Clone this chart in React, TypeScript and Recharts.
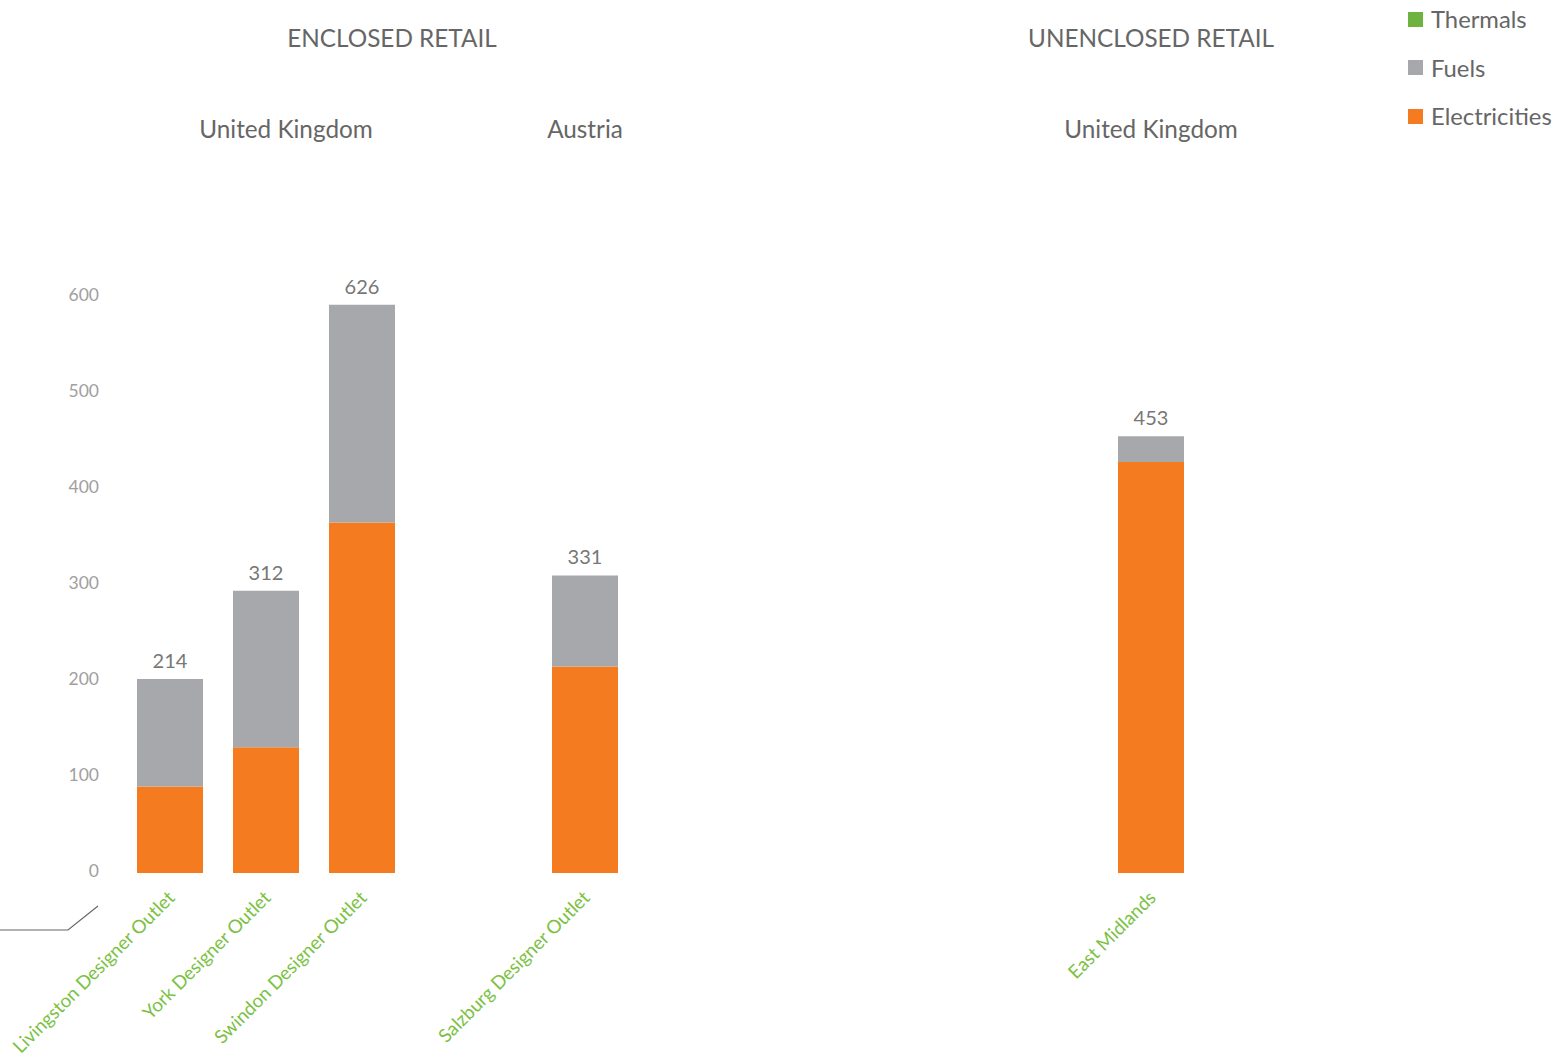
import React from 'react';
import { BarChart, Bar, XAxis, YAxis, LabelList, Legend } from 'recharts';

// ---- data ----
const sites = ['Livingston Designer Outlet', 'York Designer Outlet', 'Swindon Designer Outlet', 'Salzburg Designer Outlet', 'East Midlands'];
const panelOf = [0, 0, 0, 1, 2];
const electricities = [90, 131, 365, 215, 428];
const fuels = [112, 163, 227, 95, 27];
const thermals = [0, 0, 0, 0, 0];
const totals = [214, 312, 626, 331, 453];
const yTicks = [0, 100, 200, 300, 400, 500, 600];
const retailTypes = ['ENCLOSED RETAIL', 'UNENCLOSED RETAIL'];
const countries = ['United Kingdom', 'Austria', 'United Kingdom'];

const ORANGE = '#F47B20';
const GRAY = '#A7A8AB';
const GREEN = '#6DB33F';
const TEXT = '#666666';
const FONT = 'Lato, "Open Sans", sans-serif';

const rows = sites.map((s, i) => ({
  name: s,
  panel: panelOf[i],
  Electricities: electricities[i],
  Fuels: fuels[i],
  Thermals: thermals[i],
  total: totals[i],
}));

const H = 1057;
const PLOT_BOTTOM = 873;
const PLOT_TOP = 297;
const XH = 30;

const XTick = (props: any) => {
  const { x, y, payload } = props;
  return (
    <text
      transform={`translate(${x + 6},${y + 26}) rotate(-45)`}
      textAnchor="end"
      fill="#7AC143"
      fontSize={18.7}
      fontFamily={FONT}
    >
      {payload.value}
    </text>
  );
};

const YTick = (props: any) => {
  const { x, y, payload } = props;
  return (
    <text x={x} y={y - 2} dy="0.355em" textAnchor="end" fill="#A0A0A0" fontSize={17.5} fontFamily={FONT}>
      {payload.value}
    </text>
  );
};

const LegendContent = (props: any) => {
  const items = [...(props.payload || [])].reverse();
  return (
    <div style={{ fontFamily: FONT }}>
      {items.map((it: any) => (
        <div key={it.value} style={{ display: 'flex', alignItems: 'center', height: 48.5 }}>
          <span style={{ width: 15, height: 15, background: it.color, display: 'inline-block', marginRight: 8 }} />
          <span style={{ fontSize: 23.8, color: TEXT }}>{it.value}</span>
        </div>
      ))}
    </div>
  );
};

function Panel({ idx, left, width, mLeft, mRight, showY, legend }: any) {
  const data = rows.filter((r) => r.panel === idx);
  return (
    <div style={{ position: 'absolute', left, top: 0 }}>
      <BarChart
        width={width}
        height={H}
        data={data}
        margin={{ top: PLOT_TOP, bottom: H - PLOT_BOTTOM - XH, left: mLeft, right: mRight }}
        barSize={66}
        style={{ overflow: 'visible' }}
      >
        <XAxis dataKey="name" axisLine={false} tickLine={false} tickSize={0} tickMargin={0} height={XH} tick={<XTick />} interval={0} />
        <YAxis
          domain={[0, 600]}
          ticks={yTicks}
          hide={!showY}
          width={showY ? 122 : 0}
          axisLine={false}
          tickLine={false}
          tickSize={0}
          tickMargin={23}
          tick={<YTick />}
        />
        {legend && (
          <Legend
            layout="vertical"
            verticalAlign="middle"
            align="center"
            content={<LegendContent />}
            wrapperStyle={{ position: 'absolute', left: 1408 - left, top: -5, width: 160, height: 150 }}
          />
        )}
        <Bar dataKey="Electricities" stackId="a" fill={ORANGE} isAnimationActive={false} />
        <Bar dataKey="Fuels" stackId="a" fill={GRAY} isAnimationActive={false}>
          <LabelList dataKey="total" position="top" offset={11} fill="#777777" fontSize={20} fontFamily={FONT} />
        </Bar>
        <Bar dataKey="Thermals" stackId="a" fill={GREEN} isAnimationActive={false} />
      </BarChart>
    </div>
  );
}

const Heading = ({ text, cx, cy }: any) => (
  <div
    style={{
      position: 'absolute',
      left: cx - 200,
      top: cy - 16,
      width: 400,
      height: 32,
      lineHeight: '32px',
      textAlign: 'center',
      fontFamily: FONT,
      fontSize: 24.3,
      color: TEXT,
      whiteSpace: 'nowrap',
    }}
  >
    {text}
  </div>
);

export default function App() {
  return (
    <div style={{ position: 'absolute', left: 0, top: 0, width: 1564, height: H, background: '#fff', overflow: 'hidden' }}>
      <Heading text={retailTypes[0]} cx={392} cy={38} />
      <Heading text={retailTypes[1]} cx={1151} cy={38} />
      <Heading text={countries[0]} cx={286} cy={129} />
      <Heading text={countries[1]} cx={585} cy={129} />
      <Heading text={countries[2]} cx={1151} cy={129} />
      <Panel idx={0} left={0} width={430} mLeft={0} mRight={20} showY />
      <Panel idx={1} left={430} width={300} mLeft={107} mRight={97} />
      <Panel idx={2} left={1000} width={564} mLeft={103} mRight={365} legend />
      <svg style={{ position: 'absolute', left: 0, top: 0 }} width={120} height={960}>
        <polyline points="0,930 68,930 98,906" fill="none" stroke="#666" strokeWidth={1.2} />
      </svg>
    </div>
  );
}
